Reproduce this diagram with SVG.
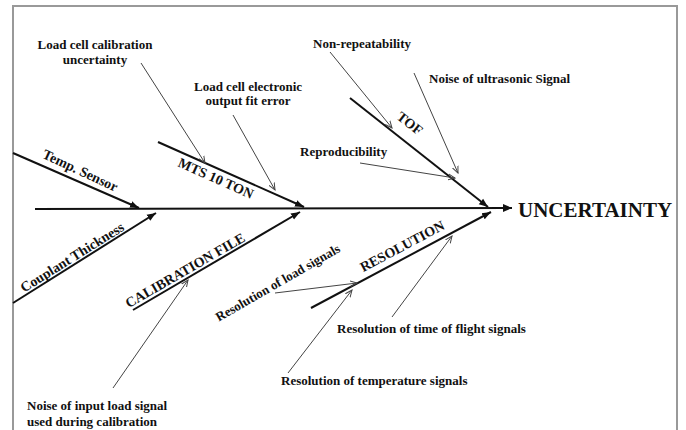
<svg xmlns="http://www.w3.org/2000/svg" width="686" height="430" viewBox="0 0 686 430">
<style>
.lbl{font-family:"Liberation Serif","Times New Roman",serif;font-weight:bold;font-size:13px;fill:#111}
.big{font-family:"Liberation Serif","Times New Roman",serif;font-weight:bold;font-size:14px;fill:#111}
.br{stroke:#111;stroke-width:2;fill:none}
.sub{stroke:#444;stroke-width:1;fill:none}
</style>
<defs>
<marker id="mh" markerUnits="userSpaceOnUse" markerWidth="10" markerHeight="10" refX="9" refY="5" orient="auto">
<path d="M0,1.5 L9,5 L0,8.5 Z" fill="#111"/>
</marker>
<marker id="ms" markerUnits="userSpaceOnUse" markerWidth="8" markerHeight="8" refX="7" refY="4" orient="auto">
<path d="M0,1 L7,4 L0,7" fill="none" stroke="#444" stroke-width="1"/>
</marker>
<marker id="mt" markerUnits="userSpaceOnUse" markerWidth="10" markerHeight="10" refX="9" refY="5" orient="auto">
<path d="M0,1 L9,5 L0,9 Z" fill="#111"/>
</marker>
</defs>
<rect x="13" y="6" width="664" height="440" fill="#fff" stroke="#999" stroke-width="2"/>
<g id="connectors">
<line class="br" x1="35" y1="209" x2="512" y2="208" stroke-width="2.5" marker-end="url(#mt)"/>
<line class="br" x1="13" y1="153" x2="139" y2="208" marker-end="url(#mh)"/>
<line class="br" x1="13" y1="303" x2="156" y2="213" marker-end="url(#mh)"/>
<line class="br" x1="158" y1="142" x2="304" y2="207" marker-end="url(#mh)"/>
<line class="br" x1="133" y1="310" x2="300" y2="212" marker-end="url(#mh)"/>
<line class="br" x1="350" y1="98" x2="488" y2="207" marker-end="url(#mh)"/>
<line class="br" x1="311" y1="308" x2="491" y2="212" marker-end="url(#mh)"/>
<line class="sub" x1="141" y1="63" x2="205" y2="163" marker-end="url(#ms)"/>
<line class="sub" x1="233" y1="115" x2="275" y2="190" marker-end="url(#ms)"/>
<line class="sub" x1="113" y1="388" x2="188" y2="280" marker-end="url(#ms)"/>
<line class="sub" x1="330" y1="52" x2="392" y2="128" marker-end="url(#ms)"/>
<line class="sub" x1="414" y1="73" x2="458" y2="173" marker-end="url(#ms)"/>
<line class="sub" x1="360" y1="163" x2="455" y2="178" marker-end="url(#ms)"/>
<line class="sub" x1="275" y1="293" x2="357" y2="283" marker-end="url(#ms)"/>
<line class="sub" x1="288" y1="373" x2="352" y2="290" marker-end="url(#ms)"/>
<line class="sub" x1="392" y1="317" x2="452" y2="236" marker-end="url(#ms)"/>
</g>
<g id="effect"><text x="518" y="217" font-family="Liberation Serif, serif" font-weight="bold" font-size="21" fill="#111">UNCERTAINTY</text></g>
<g id="temp-sensor"><text class="big" text-anchor="middle" transform="translate(80,171) rotate(25)" y="4">Temp. Sensor</text></g>
<g id="couplant"><text class="big" text-anchor="middle" transform="translate(72,257) rotate(-32)" y="5">Couplant Thickness</text></g>
<g id="mts"><text class="big" text-anchor="middle" transform="translate(216,178) rotate(24)" y="5">MTS 10 TON</text></g>
<g id="calibration"><text class="big" text-anchor="middle" transform="translate(185,270) rotate(-30)" y="5">CALIBRATION FILE</text></g>
<g id="tof"><text class="big" text-anchor="middle" transform="translate(410,123) rotate(38)" y="5">TOF</text></g>
<g id="resolution"><text class="big" text-anchor="middle" transform="translate(402,246) rotate(-28)" y="5">RESOLUTION</text></g>
<g id="lc-cal"><text class="lbl" text-anchor="middle" x="95" y="49">Load cell calibration</text><text class="lbl" text-anchor="middle" x="95" y="64">uncertainty</text></g>
<g id="lc-fit"><text class="lbl" text-anchor="middle" x="248" y="91">Load cell electronic</text><text class="lbl" text-anchor="middle" x="248" y="105">output fit error</text></g>
<g id="noise-input"><text class="lbl" x="27" y="410">Noise of input load signal</text><text class="lbl" x="27" y="426">used during calibration</text></g>
<g id="non-rep"><text class="lbl" x="313" y="48">Non-repeatability</text></g>
<g id="noise-us"><text class="lbl" x="429" y="83">Noise of ultrasonic Signal</text></g>
<g id="repro"><text class="lbl" x="300" y="156">Reproducibility</text></g>
<g id="res-load"><text class="lbl" font-size="12" text-anchor="middle" transform="translate(278,283) rotate(-30)" y="4">Resolution of load signals</text></g>
<g id="res-tof"><text class="lbl" x="337" y="333">Resolution of time of flight signals</text></g>
<g id="res-temp"><text class="lbl" x="281" y="385">Resolution of temperature signals</text></g>
</svg>
